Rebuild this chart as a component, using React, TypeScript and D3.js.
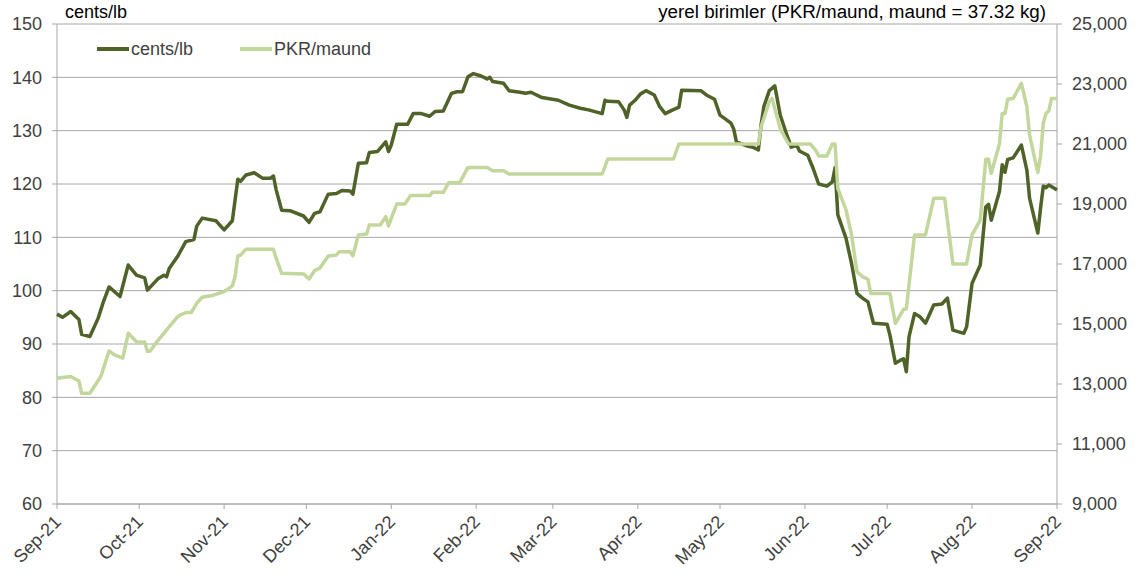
import * as d3 from "d3";
import React from "react";

// cents/lb series (left axis)
const centsDates = [
  "2021-09-01", "2021-09-03", "2021-09-06", "2021-09-09", "2021-09-10", "2021-09-13", "2021-09-16", "2021-09-18",
  "2021-09-20", "2021-09-22", "2021-09-24", "2021-09-27", "2021-09-30", "2021-10-03", "2021-10-04", "2021-10-08",
  "2021-10-10", "2021-10-11", "2021-10-12", "2021-10-15", "2021-10-18", "2021-10-21", "2021-10-22", "2021-10-24",
  "2021-10-29", "2021-11-01", "2021-11-04", "2021-11-06", "2021-11-07", "2021-11-09", "2021-11-12", "2021-11-15",
  "2021-11-18", "2021-11-19", "2021-11-20", "2021-11-22", "2021-11-25", "2021-11-30", "2021-12-02", "2021-12-04",
  "2021-12-06", "2021-12-09", "2021-12-12", "2021-12-14", "2021-12-17", "2021-12-18", "2021-12-20", "2021-12-23",
  "2021-12-24", "2021-12-27", "2021-12-30", "2021-12-31", "2022-01-01", "2022-01-03", "2022-01-07", "2022-01-09",
  "2022-01-12", "2022-01-15", "2022-01-17", "2022-01-20", "2022-01-23", "2022-01-25", "2022-01-27", "2022-01-29",
  "2022-01-31", "2022-02-03", "2022-02-05", "2022-02-06", "2022-02-07", "2022-02-11", "2022-02-13", "2022-02-17",
  "2022-02-19", "2022-02-21", "2022-02-25", "2022-03-03", "2022-03-07", "2022-03-11", "2022-03-14", "2022-03-19",
  "2022-03-20", "2022-03-21", "2022-03-25", "2022-03-27", "2022-03-28", "2022-03-29", "2022-03-31", "2022-04-02",
  "2022-04-04", "2022-04-07", "2022-04-09", "2022-04-11", "2022-04-13", "2022-04-16", "2022-04-17", "2022-04-24",
  "2022-04-26", "2022-04-29", "2022-05-01", "2022-05-05", "2022-05-06", "2022-05-07", "2022-05-11", "2022-05-13",
  "2022-05-15", "2022-05-16", "2022-05-17", "2022-05-19", "2022-05-21", "2022-05-23", "2022-05-25", "2022-05-27",
  "2022-05-29", "2022-05-30", "2022-06-02", "2022-06-04", "2022-06-06", "2022-06-09", "2022-06-11", "2022-06-12",
  "2022-06-13", "2022-06-16", "2022-06-18", "2022-06-20", "2022-06-22", "2022-06-24", "2022-06-26", "2022-07-01",
  "2022-07-02", "2022-07-04", "2022-07-06", "2022-07-07", "2022-07-08", "2022-07-09", "2022-07-11", "2022-07-13",
  "2022-07-15", "2022-07-18", "2022-07-21", "2022-07-23", "2022-07-25", "2022-07-29", "2022-07-30", "2022-08-01",
  "2022-08-04", "2022-08-06", "2022-08-07", "2022-08-08", "2022-08-11", "2022-08-12", "2022-08-13", "2022-08-14",
  "2022-08-16", "2022-08-19", "2022-08-21", "2022-08-22", "2022-08-25", "2022-08-26", "2022-08-27", "2022-08-28",
  "2022-08-29", "2022-08-31", "2022-09-01",
];
const centsValues = [
  95.6, 95.0, 96.1, 94.6, 91.8, 91.4, 94.8, 98.0,
  100.7, 99.8, 98.9, 104.8, 102.9, 102.4, 100.1, 102.3,
  102.9, 102.6, 104.2, 106.4, 109.2, 109.6, 112.1, 113.6,
  113.1, 111.4, 113.1, 120.9, 120.5, 121.7, 122.1, 121.1,
  121.1, 121.5, 118.9, 115.1, 115.0, 114.0, 112.8, 114.5,
  114.8, 118.1, 118.2, 118.8, 118.7, 118.1, 123.9, 124.0,
  125.9, 126.1, 127.9, 126.1, 127.3, 131.2, 131.2, 133.2,
  133.2, 132.7, 133.6, 133.7, 137.0, 137.3, 137.3, 140.1,
  140.7, 140.2, 139.7, 140.0, 139.2, 138.9, 137.5, 137.2,
  137.0, 137.2, 136.2, 135.7, 134.8, 134.2, 133.9, 133.2,
  135.7, 135.5, 135.4, 133.9, 132.5, 134.8, 135.7, 136.9,
  137.5, 136.7, 134.5, 133.2, 133.7, 134.4, 137.6, 137.5,
  136.7, 135.9, 132.9, 131.4, 130.3, 127.9, 127.1, 126.9,
  126.4, 131.1, 134.5, 137.5, 138.4, 132.9, 129.8, 126.9,
  127.3, 126.2, 125.4, 122.9, 120.0, 119.6, 120.4, 123.1,
  114.2, 109.8, 105.1, 99.5, 98.6, 97.9, 93.9, 93.7,
  91.7, 86.4, 87.0, 87.2, 84.8, 91.4, 95.7, 95.1,
  93.9, 97.3, 97.5, 98.6, 92.6, 92.0, 93.2, 101.4,
  104.8, 115.7, 116.2, 113.2, 118.6, 123.6, 122.2, 124.6,
  124.9, 127.3, 122.6, 117.3, 110.8, 115.5, 119.6, 119.3,
  119.8, 119.2, 118.9,
];

// PKR/maund series (right axis)
const pkrDates = [
  "2021-09-01", "2021-09-06", "2021-09-09", "2021-09-10", "2021-09-13", "2021-09-17", "2021-09-20", "2021-09-22",
  "2021-09-25", "2021-09-27", "2021-09-30", "2021-10-03", "2021-10-04", "2021-10-05", "2021-10-08", "2021-10-10",
  "2021-10-12", "2021-10-15", "2021-10-16", "2021-10-18", "2021-10-20", "2021-10-22", "2021-10-24", "2021-10-28",
  "2021-11-01", "2021-11-04", "2021-11-05", "2021-11-06", "2021-11-07", "2021-11-09", "2021-11-19", "2021-11-20",
  "2021-11-22", "2021-11-30", "2021-12-02", "2021-12-04", "2021-12-06", "2021-12-09", "2021-12-12", "2021-12-13",
  "2021-12-17", "2021-12-18", "2021-12-20", "2021-12-23", "2021-12-24", "2021-12-28", "2021-12-30", "2021-12-31",
  "2022-01-01", "2022-01-03", "2022-01-06", "2022-01-08", "2022-01-15", "2022-01-16", "2022-01-20", "2022-01-22",
  "2022-01-26", "2022-01-29", "2022-02-05", "2022-02-07", "2022-02-11", "2022-02-13", "2022-03-19", "2022-03-21",
  "2022-04-14", "2022-04-16", "2022-05-15", "2022-05-16", "2022-05-19", "2022-05-20", "2022-05-23", "2022-05-26",
  "2022-06-03", "2022-06-05", "2022-06-06", "2022-06-09", "2022-06-11", "2022-06-12", "2022-06-13", "2022-06-16",
  "2022-06-18", "2022-06-20", "2022-06-22", "2022-06-24", "2022-06-25", "2022-07-02", "2022-07-04", "2022-07-07",
  "2022-07-08", "2022-07-11", "2022-07-15", "2022-07-18", "2022-07-22", "2022-07-25", "2022-07-30", "2022-08-01",
  "2022-08-04", "2022-08-06", "2022-08-07", "2022-08-08", "2022-08-11", "2022-08-12", "2022-08-13", "2022-08-14",
  "2022-08-16", "2022-08-19", "2022-08-21", "2022-08-22", "2022-08-24", "2022-08-25", "2022-08-26", "2022-08-27",
  "2022-08-28", "2022-08-29", "2022-08-30", "2022-09-01",
];
const pkrValues = [
  13190, 13250, 13100, 12690, 12690, 13250, 14100, 13970,
  13860, 14690, 14410, 14400, 14080, 14100, 14470, 14690,
  14910, 15240, 15300, 15380, 15380, 15690, 15890, 15960,
  16080, 16270, 16580, 17270, 17300, 17490, 17490, 17190,
  16690, 16670, 16500, 16780, 16870, 17270, 17300, 17410,
  17410, 17270, 17970, 18000, 18300, 18300, 18580, 18270,
  18520, 19000, 19000, 19280, 19280, 19390, 19390, 19710,
  19710, 20220, 20220, 20110, 20110, 20000, 20000, 20500,
  20500, 21000, 21000, 21580, 22410, 22520, 21500, 21000,
  21000, 20780, 20600, 20600, 21000, 21000, 19520, 18800,
  17970, 16740, 16580, 16490, 16020, 16020, 15020, 15490,
  15500, 17970, 17970, 19190, 19190, 17000, 17000, 17970,
  18470, 20490, 20490, 20020, 21000, 22020, 22020, 22490,
  22520, 23020, 22240, 21300, 20450, 20050, 20600, 21700,
  22020, 22100, 22520, 22520,
];

const leftTicks = [60, 70, 80, 90, 100, 110, 120, 130, 140, 150];
const rightTicks = [9000, 11000, 13000, 15000, 17000, 19000, 21000, 23000, 25000];

const width = 1143;
const height = 578;
const margin = { top: 24, right: 86, bottom: 74, left: 57 };
const darkColor = "#4f6228";
const lightColor = "#c3d69b";
const gridColor = "#a6a6a6";
const textColor = "#404040";
const font = "'Liberation Sans', Arial, sans-serif";

const parse = d3.timeParse("%Y-%m-%d");

export default function App() {
  const x0 = margin.left;
  const x1 = width - margin.right;
  const y0 = height - margin.bottom;
  const y1 = margin.top;

  const xScale = d3
    .scaleTime()
    .domain([parse("2021-09-01"), parse("2022-09-01")])
    .range([x0, x1]);
  const yLeft = d3.scaleLinear().domain([60, 150]).range([y0, y1]);
  const yRight = d3.scaleLinear().domain([9000, 25000]).range([y0, y1]);

  const cents = centsDates.map((d, i) => ({ date: parse(d), value: centsValues[i] }));
  const pkr = pkrDates.map((d, i) => ({ date: parse(d), value: pkrValues[i] }));

  const centsLine = d3
    .line()
    .x((d) => xScale(d.date))
    .y((d) => yLeft(d.value));
  const pkrLine = d3
    .line()
    .x((d) => xScale(d.date))
    .y((d) => yRight(d.value));

  const monthTicks = xScale.ticks(d3.timeMonth.every(1));
  const fmtMonth = d3.timeFormat("%b-%y");
  const fmtNum = d3.format(",");

  return (
    <div style={{ position: "absolute", left: 0, top: 0 }}>
      <svg width={width} height={height} style={{ display: "block", fontFamily: font }}>
        <rect width={width} height={height} fill="#fff" />

        {/* gridlines */}
        {leftTicks.map((t) => (
          <line key={"g" + t} x1={x0} x2={x1} y1={yLeft(t)} y2={yLeft(t)} stroke={gridColor} strokeWidth={1} />
        ))}

        {/* axes */}
        <line x1={x0} x2={x0} y1={y1} y2={y0} stroke={gridColor} />
        <line x1={x1} x2={x1} y1={y1} y2={y0} stroke={gridColor} />
        <line x1={x0} x2={x1} y1={y0} y2={y0} stroke={gridColor} />

        {leftTicks.map((t) => (
          <g key={"l" + t}>
            <line x1={x0 - 5} x2={x0} y1={yLeft(t)} y2={yLeft(t)} stroke={gridColor} />
            <text x={x0 - 15} y={yLeft(t)} dy="0.35em" textAnchor="end" fontSize={18} fill={textColor}>
              {t}
            </text>
          </g>
        ))}

        {rightTicks.map((t) => (
          <g key={"r" + t}>
            <line x1={x1} x2={x1 + 5} y1={yRight(t)} y2={yRight(t)} stroke={gridColor} />
            <text x={x1 + 15} y={yRight(t)} dy="0.35em" textAnchor="start" fontSize={18} fill={textColor}>
              {fmtNum(t)}
            </text>
          </g>
        ))}

        {monthTicks.map((t) => {
          const x = xScale(t);
          return (
            <g key={"m" + t.getTime()}>
              <line x1={x} x2={x} y1={y0} y2={y0 + 5} stroke={gridColor} />
              <text
                transform={`translate(${x + 5},${y0 + 19}) rotate(-45)`}
                textAnchor="end"
                fontSize={18}
                fill={textColor}
              >
                {fmtMonth(t)}
              </text>
            </g>
          );
        })}

        {/* series */}
        <path d={centsLine(cents)} fill="none" stroke={darkColor} strokeWidth={3.5} strokeLinejoin="round" />
        <path d={pkrLine(pkr)} fill="none" stroke={lightColor} strokeWidth={3.5} strokeLinejoin="round" />

        {/* titles */}
        <text x={65} y={18} fontSize={18} fill="#000">
          cents/lb
        </text>
        <text x={1046} y={18} fontSize={18.8} fill="#000" textAnchor="end">
          yerel birimler (PKR/maund, maund = 37.32 kg)
        </text>

        {/* legend */}
        <line x1={97} x2={129} y1={49} y2={49} stroke={darkColor} strokeWidth={4} />
        <text x={131} y={55} fontSize={18} fill={textColor}>
          cents/lb
        </text>
        <line x1={240} x2={272} y1={49} y2={49} stroke={lightColor} strokeWidth={4} />
        <text x={274} y={55} fontSize={18} fill={textColor}>
          PKR/maund
        </text>
      </svg>
    </div>
  );
}
